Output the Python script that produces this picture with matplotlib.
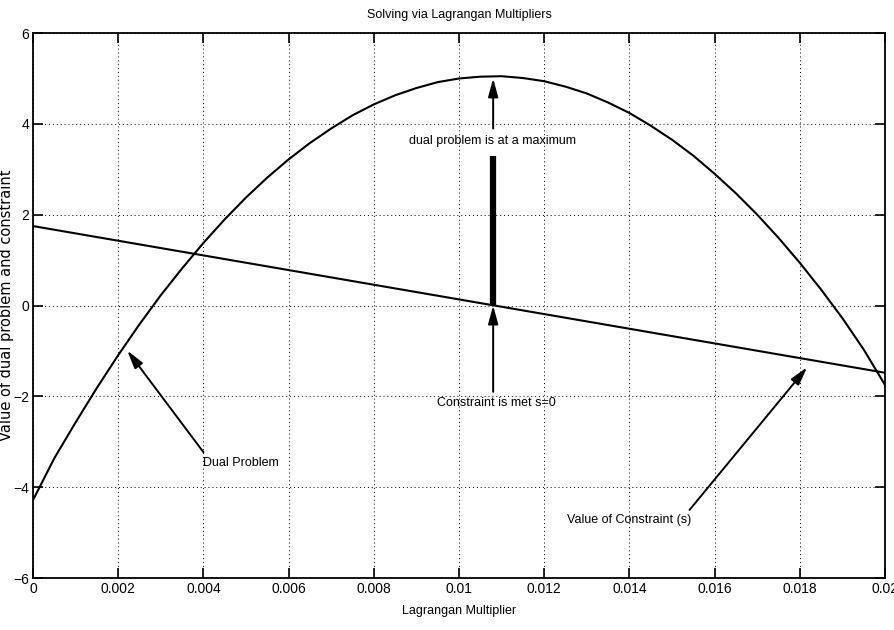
import matplotlib
matplotlib.use("Agg")
import matplotlib.pyplot as plt

# Lagrange multiplier values and the dual function evaluated on them
lam = [0.0000, 0.0005, 0.0010, 0.0015, 0.0020, 0.0025, 0.0030, 0.0035, 0.0040,
       0.0045, 0.0050, 0.0055, 0.0060, 0.0065, 0.0070, 0.0075, 0.0080, 0.0085,
       0.0090, 0.0095, 0.0100, 0.0105, 0.0110, 0.0115, 0.0120, 0.0125, 0.0130,
       0.0135, 0.0140, 0.0145, 0.0150, 0.0155, 0.0160, 0.0165, 0.0170, 0.0175,
       0.0180, 0.0185, 0.0190, 0.0195, 0.0200]
dual = [-4.28, -3.36, -2.57, -1.81, -1.09, -0.41, 0.23, 0.82, 1.38,
        1.90, 2.38, 2.82, 3.22, 3.58, 3.90, 4.19, 4.43, 4.63,
        4.79, 4.92, 5.00, 5.04, 5.05, 5.01, 4.94, 4.82, 4.67,
        4.47, 4.24, 3.96, 3.65, 3.30, 2.90, 2.47, 2.00, 1.49,
        0.94, 0.35, -0.28, -0.97, -1.75]

# Constraint value s as a function of the multiplier (straight line)
constraint_x = [0.0, 0.02]
constraint_y = [1.75, -1.48]

xticks = [0, 0.002, 0.004, 0.006, 0.008, 0.01, 0.012, 0.014, 0.016, 0.018, 0.02]
xticklabels = ["0", "0.002", "0.004", "0.006", "0.008", "0.01", "0.012", "0.014",
               "0.016", "0.018", "0.02"]
yticks = [-6, -4, -2, 0, 2, 4, 6]

fam = ["Liberation Sans", "DejaVu Sans"]

fig = plt.figure(figsize=(8.94, 6.30), dpi=100)
ax = fig.add_axes([0.037, 0.0825, 0.953, 0.865])

ax.plot(lam, dual, color="black", lw=1.5)
ax.plot(constraint_x, constraint_y, color="black", lw=1.5)

ax.set_xlim(0, 0.02)
ax.set_ylim(-6, 6)
ax.set_xticks(xticks)
ax.set_xticklabels(xticklabels)
ax.set_yticks(yticks)
ax.grid(True, color="black", linestyle=(0, (1, 3)), lw=0.7)
ax.tick_params(direction="in", length=7, width=1.2, top=True, right=True,
               labelsize=10, pad=3)
for lbl in ax.get_xticklabels() + ax.get_yticklabels():
    lbl.set_family(fam)
for s in ax.spines.values():
    s.set_linewidth(1.3)

ax.set_title("Solving via Lagrangan Multipliers", family=fam, fontsize=9,
             pad=11)
ax.set_xlabel("Lagrangan Multiplier", family=fam, fontsize=9, labelpad=6)
ax.set_ylabel("Value of dual problem and constraint", family="DejaVu Sans",
              fontsize=10.5)
ax.yaxis.set_label_coords(-0.022, 0.5)

arrow = dict(arrowstyle="-|>,head_length=1.1,head_width=0.3", color="black",
             lw=1.4, shrinkA=0, shrinkB=0)

# Maximum of the dual problem
xm = 0.0108
ax.plot([xm, xm], [0.0, 3.3], color="black", lw=4.5, solid_capstyle="butt")
ax.annotate("", xy=(xm, 5.0), xytext=(xm, 3.9), arrowprops=arrow)
ax.text(0.01078, 3.63, "dual problem is at a maximum", family=fam, fontsize=9,
        ha="center", va="center")

# Constraint satisfied
ax.annotate("", xy=(xm, 0.0), xytext=(xm, -1.9), arrowprops=arrow)
ax.text(0.01087, -2.15, "Constraint is met s=0", family=fam, fontsize=9,
        ha="center", va="center")

# Dual problem label
ax.annotate("", xy=(0.00221, -0.99), xytext=(0.0040, -3.23), arrowprops=arrow)
ax.text(0.00398, -3.47, "Dual Problem", family=fam, fontsize=9,
        ha="left", va="center")

# Constraint label
ax.annotate("", xy=(0.01817, -1.36), xytext=(0.01541, -4.5), arrowprops=arrow)
ax.text(0.01545, -4.73, "Value of Constraint (s)", family=fam, fontsize=9,
        ha="right", va="center")

fig.savefig("out.png", dpi=100)
